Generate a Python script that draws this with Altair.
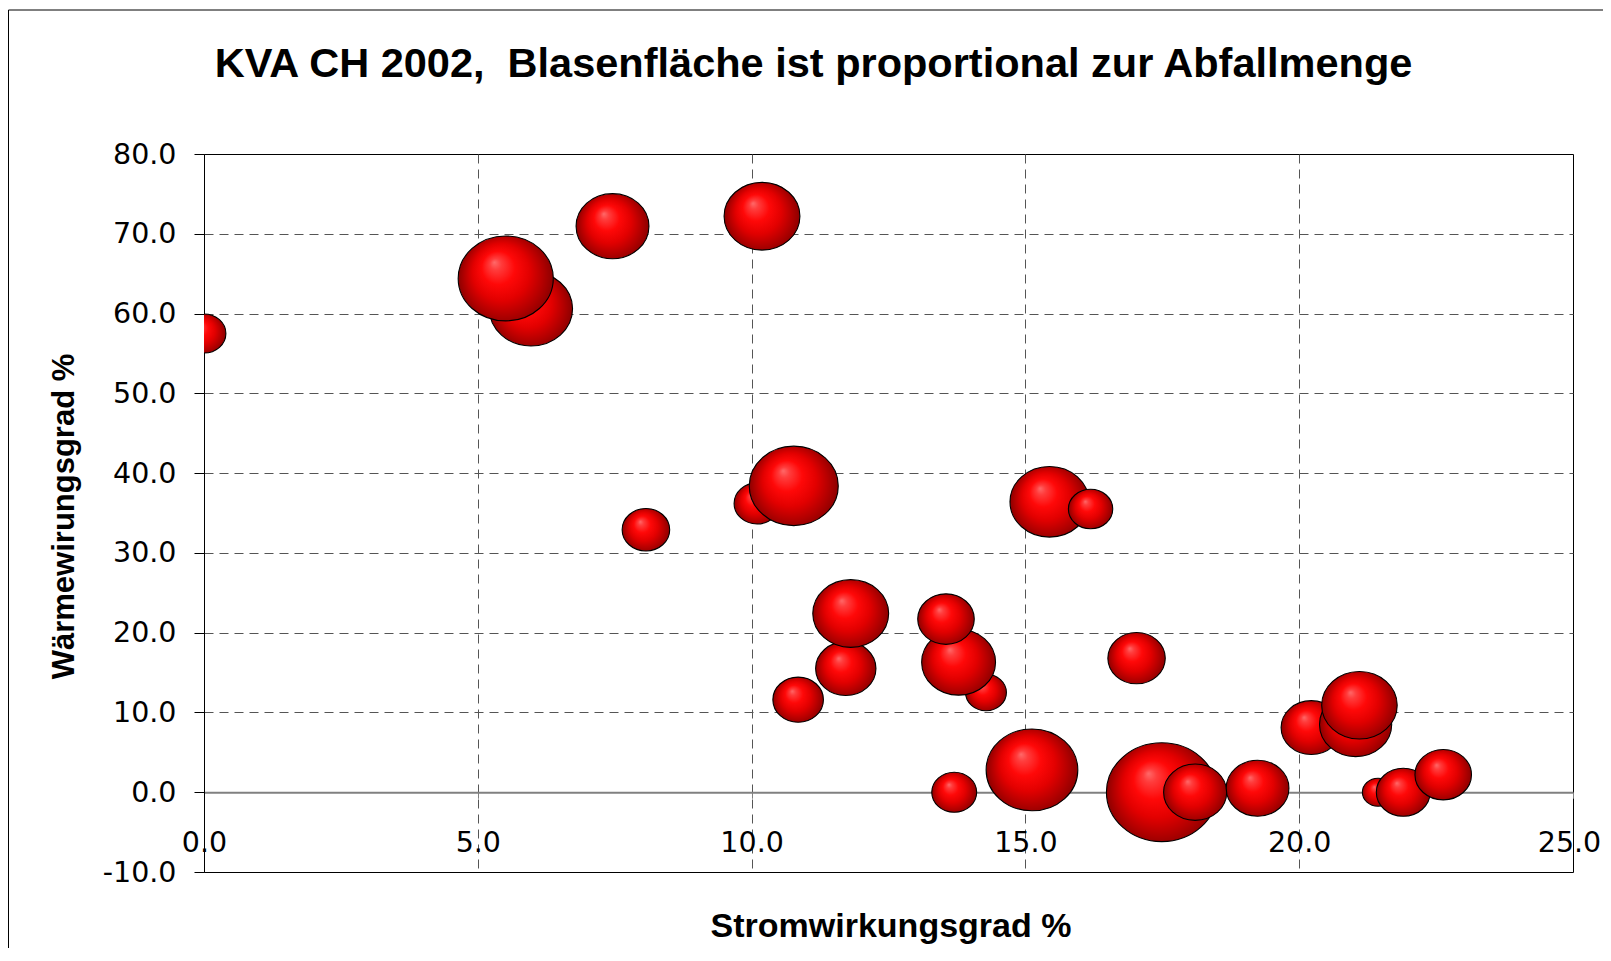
import altair as alt
import pandas as pd

# ---- data, listed in drawing order (back to front)
strom = [0.0, 5.97, 5.51, 7.46, 10.19, 8.07, 10.10, 10.77, 15.44, 16.19,
         14.28, 13.78, 13.55, 11.72, 11.81, 10.85, 17.03, 13.70, 15.12, 17.49,
         18.10, 19.24, 20.22, 21.03, 21.10, 21.44, 21.90, 22.63]
waerme = [57.5, 60.6, 64.4, 70.95, 72.2, 32.9, 36.2, 38.4, 36.4, 35.5,
          12.5, 16.3, 21.7, 15.5, 22.4, 11.6, 16.8, 0.0, 2.8, 0.0,
          0.0, 0.5, 8.1, 8.5, 10.9, 0.0, 0.0, 2.2]
abfall = [39, 141, 184, 108, 117, 46, 43, 161, 127, 40,
          34, 111, 65, 74, 117, 52, 67, 41, 171, 249,
          81, 80, 74, 106, 116, 20, 59, 65]

x_ticks = [0, 5, 10, 15, 20, 25]
y_ticks = [-10, 0, 10, 20, 30, 40, 50, 60, 70, 80]

# second space kept as a no-break space so SVG does not collapse it
title_text = "KVA CH 2002,\u00a0 Blasenfläche ist proportional zur Abfallmenge"
x_title = "Stromwirkungsgrad %"
y_title = "Wärmewirungsgrad %"

df = pd.DataFrame({
    "strom": strom,
    "waerme": waerme,
    "abfall": abfall,
    "z": list(range(len(strom))),
})

W, H = 1369, 718
x_dom = [0, 25]
y_dom = [-10, 80]
zero_px = H * (y_dom[1] - 0) / (y_dom[1] - y_dom[0])
x_axis_offset = -(H - zero_px)

# slightly wide ellipse (the reference picture is stretched horizontally)
a = 1.12
k = 0.5523
ka = round(k * a, 4)
ELLIPSE = (f"M {a} 0 C {a} {k} {ka} 1 0 1 C {-ka} 1 {-a} {k} {-a} 0 "
           f"C {-a} {-k} {-ka} -1 0 -1 C {ka} -1 {a} {-k} {a} 0 Z")

GRAD = {
    "gradient": "radial",
    "x1": 0.38, "y1": 0.33, "r1": 0,
    "x2": 0.5, "y2": 0.5, "r2": 0.5,
    "stops": [
        {"offset": 0.0, "color": "#ff6a6a"},
        {"offset": 0.12, "color": "#ff3c3c"},
        {"offset": 0.35, "color": "#ff0808"},
        {"offset": 0.6, "color": "#e20000"},
        {"offset": 0.82, "color": "#b40000"},
        {"offset": 1.0, "color": "#8c0000"},
    ],
}

grid_col = "#555555"
label_expr = "replace(format(datum.value, '.1f'), '\u2212', '-')"

x_axis = alt.Axis(
    values=x_ticks, labelExpr=label_expr, title=x_title, orient="bottom",
    offset=x_axis_offset,
    domainColor="#808080", domainWidth=2,
    tickColor="#808080", tickSize=6,
    labelPadding=30, labelFont="DejaVu Sans", labelFontSize=28.5,
    labelColor="black", labelFlush=False, labelOverlap=False,
    labelOffset={"condition": {"test": "datum.value == 25", "value": -4}, "value": 0},
    grid=True, gridColor=grid_col, gridDash=[9, 6], gridWidth=1,
    gridOpacity={"condition": {"test": "datum.value == 0 || datum.value == 25", "value": 0}, "value": 1},
    titleFont="Liberation Sans", titleFontSize=34, titleFontWeight="bold",
    titleColor="black", titleBaseline="alphabetic",
    titleY=936 - (154 + zero_px), titleX=W / 2 + 2,
)

y_axis = alt.Axis(
    values=y_ticks, labelExpr=label_expr, title=y_title,
    domainColor="black", domainWidth=1,
    tickColor="black", tickSize=10,
    labelPadding=18, labelFont="DejaVu Sans", labelFontSize=28.5,
    labelColor="black", labelFlush=False, labelOverlap=False,
    grid=True, gridColor=grid_col, gridDash=[9, 6], gridWidth=1,
    gridOpacity={"condition": {"test": "datum.value == -10 || datum.value == 0 || datum.value == 80", "value": 0}, "value": 1},
    titleFont="Liberation Sans", titleFontSize=31, titleFontWeight="bold",
    titleColor="black", titleAngle=270, titleBaseline="alphabetic",
    titleAlign="center", titleX=-130.5, titleY=362,
)

bubbles = alt.Chart(df).mark_point(
    shape=ELLIPSE, filled=True, fill=GRAD, stroke="black", strokeWidth=1.1,
    opacity=1, clip=True,
).encode(
    x=alt.X("strom:Q", scale=alt.Scale(domain=x_dom, nice=False, zero=False), axis=x_axis),
    y=alt.Y("waerme:Q", scale=alt.Scale(domain=y_dom, nice=False, zero=False), axis=y_axis),
    size=alt.Size("abfall:Q", scale=alt.Scale(domain=[0, 250], range=[0, 9800]), legend=None),
    order=alt.Order("z:Q"),
)

frame_df = pd.DataFrame({"k": [0]})
frame_top = alt.Chart(frame_df).mark_rule(color="black", strokeWidth=1).encode(
    x=alt.value(-195.5), x2=alt.value(W + 60), y=alt.value(-144)
)
frame_left = alt.Chart(frame_df).mark_rule(color="black", strokeWidth=1).encode(
    x=alt.value(-195.5), y=alt.value(-144), y2=alt.value(H + 100)
)

chart = alt.layer(frame_top, frame_left, bubbles).properties(
    width=W, height=H,
    autosize=alt.AutoSizeParams(type="none"),
    padding={"left": 196, "top": 146, "right": 30, "bottom": 76},
    title=alt.TitleParams(
        text=title_text, font="Liberation Sans", fontSize=41.5, fontWeight="bold",
        color="black", anchor="middle", frame="group", dx=-75,
        baseline="alphabetic", offset=-109,
    ),
    background="white",
).configure_view(stroke="black", strokeWidth=1)

chart.save("out.html", embed_options={"renderer": "svg", "actions": False})
